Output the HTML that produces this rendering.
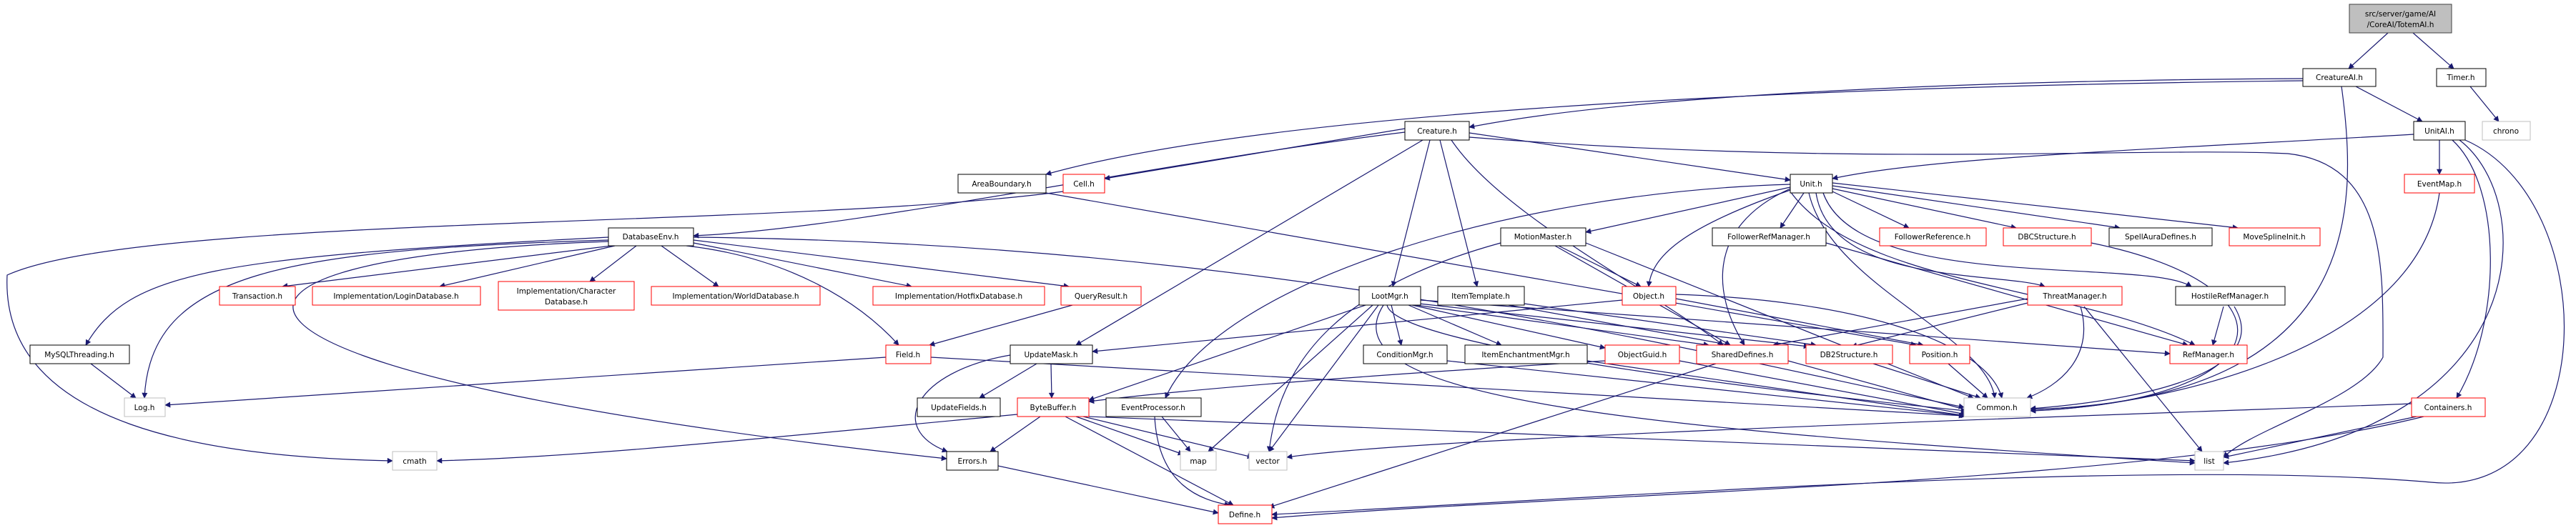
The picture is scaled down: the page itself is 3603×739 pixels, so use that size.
<!DOCTYPE html>
<html><head><meta charset="utf-8"><style>
html,body{margin:0;padding:0;background:#fff;}
svg{display:block;}
text{font-family:"DejaVu Sans","Liberation Sans",sans-serif;font-size:10.5px;fill:#000;}
.e{fill:none;stroke:#191970;stroke-width:1.2;}
</style></head><body>
<svg width="3603" height="739" viewBox="0 0 3603 739" xmlns="http://www.w3.org/2000/svg">
<defs><marker id="a" viewBox="0 0 10 10" refX="9" refY="5" markerWidth="10" markerHeight="8" markerUnits="userSpaceOnUse" orient="auto"><path d="M0,0 L10,5 L0,10 z" fill="#191970"/></marker></defs>
<g class="e" marker-end="url(#a)">
<path d="M3340,46 L3285,96"/>
<path d="M3375,46 L3432,96"/>
<path d="M3221,110 C2800,112 2300,130 2055,178"/>
<path d="M3221,113 C2600,120 1800,150 1463,244"/>
<path d="M3295,121 L3388,170"/>
<path d="M3275,121 C3300,300 3300,560 2840,573"/>
<path d="M3455,121 L3495,170"/>
<path d="M3376,188 C3000,210 2700,220 2563,250"/>
<path d="M3412,196 L3412,244"/>
<path d="M3430,196 C3500,260 3500,450 3436,557"/>
<path d="M3440,196 C3550,280 3550,600 3110,648"/>
<path d="M3448,196 C3640,280 3640,700 3400,675 C3000,640 2200,700 1779,720"/>
<path d="M2055,186 L2504,252"/>
<path d="M1965,180 L1545,250"/>
<path d="M1965,185 C1600,230 1200,320 970,330"/>
<path d="M2000,196 L1948,401"/>
<path d="M2014,196 L2066,401"/>
<path d="M1990,196 L1505,483"/>
<path d="M2055,192 C2600,235 3000,205 3200,215 C3340,230 3333,380 3333,500 C3300,560 3150,600 3110,640"/>
<path d="M2030,196 C2100,300 2300,400 2410,483"/>
<path d="M2504,262 L2218,325"/>
<path d="M2523,270 L2490,319"/>
<path d="M2563,268 L2670,319"/>
<path d="M2563,264 L2820,319"/>
<path d="M2563,260 L2965,319"/>
<path d="M2563,256 L3130,319"/>
<path d="M2540,270 C2560,400 2800,380 2860,401"/>
<path d="M2550,270 C2600,410 3000,360 3065,401"/>
<path d="M2504,266 C2350,320 2310,360 2306,401"/>
<path d="M2504,258 C2100,270 1700,400 1630,557"/>
<path d="M2504,268 C2600,400 2900,400 3070,483"/>
<path d="M2504,264 C2380,320 2400,420 2440,483"/>
<path d="M2530,270 C2560,400 2780,470 2790,557"/>
<path d="M855,344 L395,401"/>
<path d="M860,344 L615,401"/>
<path d="M890,344 L825,394"/>
<path d="M925,344 L1005,401"/>
<path d="M970,340 L1275,401"/>
<path d="M970,336 L1495,401"/>
<path d="M960,344 C1100,360 1200,420 1257,483"/>
<path d="M851,332 C300,360 180,380 120,483"/>
<path d="M851,336 C400,350 210,380 202,557"/>
<path d="M851,338 C200,360 200,520 1324,642"/>
<path d="M970,332 C1800,340 2400,500 2747,570"/>
<path d="M1487,268 C1100,320 200,300 10,385 C0,600 300,640 549,645"/>
<path d="M1463,270 L2680,483"/>
<path d="M2180,344 L2295,401"/>
<path d="M2175,344 L2420,483"/>
<path d="M2099,340 C1880,400 1790,500 1775,632"/>
<path d="M2218,340 L2760,557"/>
<path d="M2554,340 L3060,483"/>
<path d="M1946,427 L1960,483"/>
<path d="M1970,427 L2100,483"/>
<path d="M1975,427 L2245,487"/>
<path d="M1980,427 L2390,483"/>
<path d="M1985,425 L2530,485"/>
<path d="M1910,427 L1523,560"/>
<path d="M1920,427 L1690,632"/>
<path d="M1928,427 L1775,632"/>
<path d="M1935,427 C1850,560 2300,600 3070,648"/>
<path d="M1940,427 C1950,480 2400,540 2750,575"/>
<path d="M1987,420 L3035,495"/>
<path d="M2110,427 L2420,483"/>
<path d="M2132,425 L2540,483"/>
<path d="M2269,420 L1528,492"/>
<path d="M2344,418 L2690,483"/>
<path d="M2344,412 C2600,420 2780,480 2800,557"/>
<path d="M2836,418 L2480,483"/>
<path d="M2836,424 L2590,485"/>
<path d="M2910,429 C2930,500 2880,540 2835,557"/>
<path d="M2915,429 L3080,632"/>
<path d="M3110,429 L3095,483"/>
<path d="M3125,429 C3180,520 3000,560 2840,572"/>
<path d="M3412,270 C3380,500 3000,570 2840,575"/>
<path d="M3380,583 L3110,640"/>
<path d="M3373,565 C3000,580 2000,610 1800,640"/>
<path d="M3390,583 C3000,680 2200,690 1779,725"/>
<path d="M2925,340 C3220,400 3200,560 2840,575"/>
<path d="M1450,509 L1370,557"/>
<path d="M1470,509 L1471,557"/>
<path d="M1413,497 C1280,520 1240,600 1325,632"/>
<path d="M1455,583 L1385,632"/>
<path d="M1490,583 L1725,707"/>
<path d="M1505,583 L1655,636"/>
<path d="M1515,583 L1752,640"/>
<path d="M1523,583 L3070,645"/>
<path d="M1423,580 C1000,620 800,640 611,645"/>
<path d="M1625,583 L1665,632"/>
<path d="M1615,583 C1620,680 1680,700 1720,707"/>
<path d="M1396,652 L1704,718"/>
<path d="M1239,500 L231,567"/>
<path d="M1302,500 L2747,582"/>
<path d="M1500,427 L1300,483"/>
<path d="M127,509 L190,557"/>
<path d="M2245,505 C2000,520 1700,540 1523,562"/>
<path d="M2349,505 L2750,580"/>
<path d="M2400,509 L1775,710"/>
<path d="M2501,505 L2755,575"/>
<path d="M2620,509 L2770,557"/>
<path d="M2725,509 L2780,557"/>
<path d="M2024,505 L2750,582"/>
<path d="M2220,505 L2750,582"/>
</g>
<g stroke-width="1">
<rect x="3286" y="6" width="143" height="40" fill="#bfbfbf" stroke="#404040"/>
<text x="3357.5" y="23" text-anchor="middle">src/server/game/AI</text>
<text x="3357.5" y="38" text-anchor="middle">/CoreAI/TotemAI.h</text>

<g fill="#fff" stroke="#000">
<rect x="3221" y="96" width="102" height="25"/>
<rect x="3408" y="96" width="69" height="25"/>
<rect x="1965" y="170" width="90" height="26"/>
<rect x="3376" y="170" width="72" height="26"/>
<rect x="1340" y="244" width="123" height="26"/>
<rect x="2504" y="244" width="59" height="26"/>
<rect x="851" y="319" width="119" height="25"/>
<rect x="2099" y="319" width="119" height="25"/>
<rect x="2395" y="319" width="159" height="25"/>
<rect x="2950" y="319" width="144" height="25"/>
<rect x="1901" y="401" width="86" height="26"/>
<rect x="2011" y="401" width="121" height="26"/>
<rect x="3043" y="401" width="153" height="26"/>
<rect x="42" y="483" width="139" height="26"/>
<rect x="1413" y="483" width="115" height="26"/>
<rect x="1907" y="483" width="117" height="26"/>
<rect x="2049" y="483" width="171" height="26"/>
<rect x="1283" y="557" width="116" height="26"/>
<rect x="1547" y="557" width="133" height="26"/>
<rect x="1324" y="632" width="72" height="26"/>
</g>
<g fill="#fff" stroke="#ff0000">
<rect x="1487" y="244" width="58" height="26"/>
<rect x="3363" y="244" width="98" height="26"/>
<rect x="2629" y="319" width="149" height="25"/>
<rect x="2802" y="319" width="123" height="25"/>
<rect x="3118" y="319" width="127" height="25"/>
<rect x="307" y="401" width="106" height="26"/>
<rect x="437" y="401" width="235" height="26"/>
<rect x="697" y="394" width="190" height="40"/>
<rect x="911" y="401" width="236" height="26"/>
<rect x="1221" y="401" width="240" height="26"/>
<rect x="1484" y="401" width="112" height="26"/>
<rect x="2269" y="401" width="75" height="26"/>
<rect x="2836" y="401" width="132" height="26"/>
<rect x="1239" y="483" width="63" height="26"/>
<rect x="2245" y="483" width="104" height="26"/>
<rect x="2373" y="483" width="128" height="26"/>
<rect x="2526" y="483" width="121" height="26"/>
<rect x="2671" y="483" width="84" height="26"/>
<rect x="3035" y="483" width="108" height="26"/>
<rect x="1423" y="557" width="100" height="26"/>
<rect x="3373" y="557" width="103" height="26"/>
<rect x="1704" y="707" width="75" height="26"/>
</g>
<g fill="#fff" stroke="#bfbfbf">
<rect x="3472" y="170" width="67" height="26"/>
<rect x="174" y="557" width="57" height="26"/>
<rect x="2747" y="557" width="93" height="26"/>
<rect x="549" y="632" width="62" height="26"/>
<rect x="1651" y="632" width="50" height="26"/>
<rect x="1747" y="632" width="53" height="26"/>
<rect x="3070" y="632" width="40" height="26"/>
</g>
</g>
<g text-anchor="middle">
<text x="3272" y="112">CreatureAI.h</text>
<text x="3442" y="112">Timer.h</text>
<text x="2010" y="187">Creature.h</text>
<text x="3412" y="187">UnitAI.h</text>
<text x="3505" y="187">chrono</text>
<text x="1401" y="261">AreaBoundary.h</text>
<text x="1516" y="261">Cell.h</text>
<text x="2533" y="261">Unit.h</text>
<text x="3412" y="261">EventMap.h</text>
<text x="910" y="335">DatabaseEnv.h</text>
<text x="2158" y="335">MotionMaster.h</text>
<text x="2474" y="335">FollowerRefManager.h</text>
<text x="2703" y="335">FollowerReference.h</text>
<text x="2863" y="335">DBCStructure.h</text>
<text x="3022" y="335">SpellAuraDefines.h</text>
<text x="3181" y="335">MoveSplineInit.h</text>
<text x="360" y="418">Transaction.h</text>
<text x="554" y="418">Implementation/LoginDatabase.h</text>
<text x="792" y="411">Implementation/Character</text>
<text x="792" y="426">Database.h</text>
<text x="1029" y="418">Implementation/WorldDatabase.h</text>
<text x="1341" y="418">Implementation/HotfixDatabase.h</text>
<text x="1540" y="418">QueryResult.h</text>
<text x="1944" y="418">LootMgr.h</text>
<text x="2071" y="418">ItemTemplate.h</text>
<text x="2306" y="418">Object.h</text>
<text x="2902" y="418">ThreatManager.h</text>
<text x="3119" y="418">HostileRefManager.h</text>
<text x="111" y="500">MySQLThreading.h</text>
<text x="1270" y="500">Field.h</text>
<text x="1470" y="500">UpdateMask.h</text>
<text x="1965" y="500">ConditionMgr.h</text>
<text x="2134" y="500">ItemEnchantmentMgr.h</text>
<text x="2297" y="500">ObjectGuid.h</text>
<text x="2437" y="500">SharedDefines.h</text>
<text x="2586" y="500">DB2Structure.h</text>
<text x="2713" y="500">Position.h</text>
<text x="3089" y="500">RefManager.h</text>
<text x="202" y="574">Log.h</text>
<text x="1341" y="574">UpdateFields.h</text>
<text x="1473" y="574">ByteBuffer.h</text>
<text x="1613" y="574">EventProcessor.h</text>
<text x="2793" y="574">Common.h</text>
<text x="3424" y="574">Containers.h</text>
<text x="580" y="649">cmath</text>
<text x="1360" y="649">Errors.h</text>
<text x="1676" y="649">map</text>
<text x="1773" y="649">vector</text>
<text x="3090" y="649">list</text>
<text x="1741" y="724">Define.h</text>
</g>
</svg>
</body></html>
